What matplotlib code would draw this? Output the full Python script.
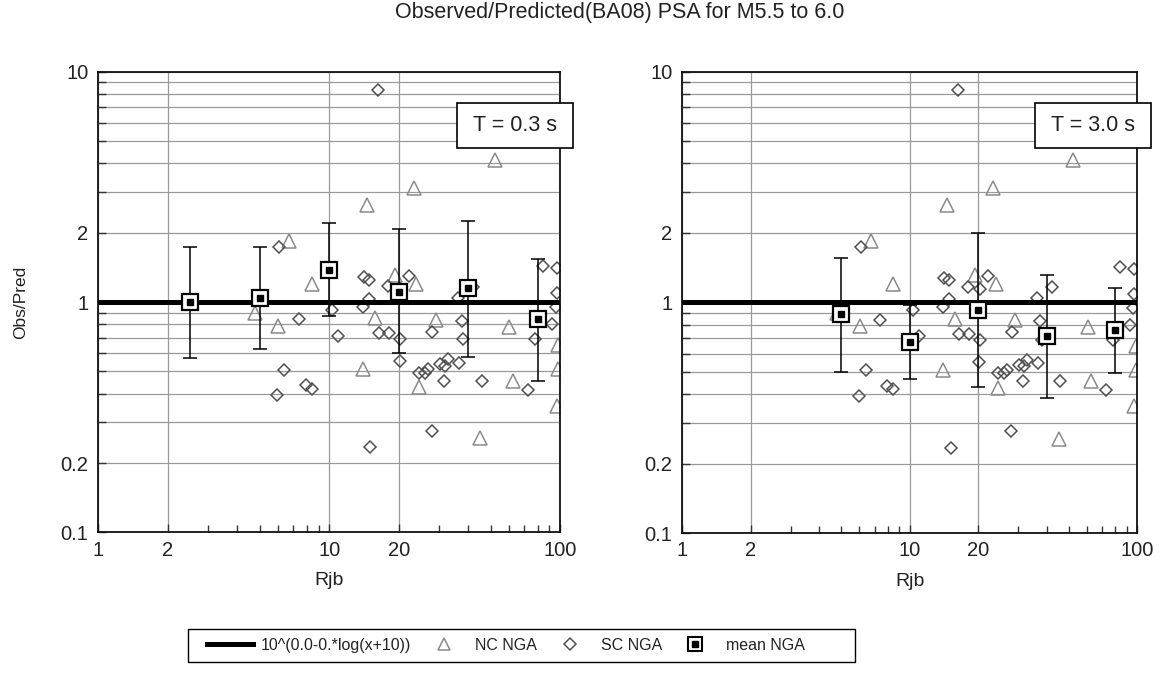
import numpy as np
import matplotlib
matplotlib.use("Agg")
import matplotlib.pyplot as plt
from matplotlib.lines import Line2D
from matplotlib.patches import Rectangle
from matplotlib.ticker import FixedLocator, NullFormatter

plt.rcParams["font.family"] = ["Liberation Sans", "DejaVu Sans"]

# observed / predicted ratios (same records in both panels)
nc_rjb = [52.3, 23.3, 14.6, 6.72, 8.46, 19.3, 23.8, 4.77, 6.03, 15.8,
          29.0, 60.4, 98.4, 98.4, 96.9, 14.0, 24.4, 62.8, 45.1]
nc_ratio = [4.14, 3.12, 2.64, 1.84, 1.20, 1.31, 1.20, 0.90, 0.79, 0.85,
            0.835, 0.78, 0.65, 0.51, 0.354, 0.51, 0.426, 0.455, 0.256]

sc_rjb = [16.3, 6.08, 14.2, 14.9, 18.05, 22.1, 14.9, 14.0, 10.3, 7.43,
          10.96, 16.5, 18.2, 20.3, 28.0, 37.5, 38.1, 36.1, 42.2, 84.2,
          96.9, 96.9, 95.9, 92.7, 78.0, 6.4, 5.95, 7.94, 8.46, 20.2,
          24.5, 26.0, 26.7, 30.2, 32.7, 31.8, 31.5, 36.5, 45.8, 27.9,
          15.1, 72.5, 20.3]
sc_ratio = [8.33, 1.73, 1.28, 1.25, 1.17, 1.30, 1.03, 0.954, 0.923, 0.841,
            0.712, 0.732, 0.732, 0.689, 0.743, 0.827, 0.689, 1.04, 1.165, 1.43,
            1.40, 1.09, 0.948, 0.80, 0.689, 0.507, 0.394, 0.436, 0.42, 0.554,
            0.493, 0.493, 0.51, 0.536, 0.564, 0.528, 0.454, 0.545, 0.454, 0.276,
            0.234, 0.415, 1.14]

# binned means with +/- one sigma bars
mean_rjb_03 = [2.5, 5, 10, 20, 40, 80]
mean_03 = [1.0, 1.044, 1.38, 1.108, 1.147, 0.841]
upper_03 = [1.73, 1.73, 2.21, 2.08, 2.25, 1.53]
lower_03 = [0.569, 0.625, 0.87, 0.599, 0.579, 0.454]

mean_rjb_30 = [5, 10, 20, 40, 80]
mean_30 = [0.887, 0.671, 0.926, 0.714, 0.759]
upper_30 = [1.556, 0.97, 1.99, 1.313, 1.157]
lower_30 = [0.50, 0.463, 0.428, 0.386, 0.492]

# model line 10^(a - b*log(x+10))
coef_a, coef_b = 0.0, 0.0

panels = [
    ("T = 0.3 s", mean_rjb_03, mean_03, upper_03, lower_03),
    ("T = 3.0 s", mean_rjb_30, mean_30, upper_30, lower_30),
]

x_major = [1, 2, 10, 20, 100]
x_minor = [3, 4, 5, 6, 7, 8, 9, 30, 40, 50, 60, 70, 80, 90]
y_lines = [0.1, 0.2, 0.3, 0.4, 0.5, 0.6, 0.7, 0.8, 0.9,
           1, 2, 3, 4, 5, 6, 7, 8, 9, 10]
y_labels = {0.1: "0.1", 0.2: "0.2", 1: "1", 2: "2", 10: "10"}

TRI = "#8a8a8a"
DIA = "#505050"
GRID = "#9a9a9a"
TXT = "#222222"

fig = plt.figure(figsize=(11.74, 6.79), dpi=100)
rects = [[0.0837, 0.216, 0.3933, 0.6784], [0.5812, 0.215, 0.3876, 0.6794]]

for i, (rect, (period, mx, my, mu, ml)) in enumerate(zip(rects, panels)):
    ax = fig.add_axes(rect)
    ax.set_xscale("log")
    ax.set_yscale("log")
    ax.set_xlim(1, 100)
    ax.set_ylim(0.1, 10)

    ax.xaxis.set_major_locator(FixedLocator(x_major))
    ax.xaxis.set_minor_locator(FixedLocator(x_minor))
    ax.xaxis.set_minor_formatter(NullFormatter())
    ax.set_xticklabels([str(v) for v in x_major])
    ax.yaxis.set_major_locator(FixedLocator(y_lines))
    ax.yaxis.set_minor_locator(FixedLocator([]))
    ax.set_yticklabels([y_labels.get(v, "") for v in y_lines])

    ax.grid(True, which="major", color=GRID, lw=0.9, zorder=0)
    ax.set_axisbelow(True)
    ax.tick_params(axis="both", which="both", direction="in", color="#333",
                   labelsize=14.5, labelcolor=TXT)
    ax.tick_params(axis="x", which="major", length=6, width=1, pad=6)
    ax.tick_params(axis="x", which="minor", length=5, width=1)
    ax.tick_params(axis="y", which="major", length=6, width=1, pad=7)
    for sp in ax.spines.values():
        sp.set_linewidth(1.3)
        sp.set_color("#111")

    ax.plot(nc_rjb, nc_ratio, ls="none", marker="^", ms=9.5, mfc="none",
            mec=TRI, mew=1.1, zorder=2)
    ax.plot(sc_rjb, sc_ratio, ls="none", marker="D", ms=6.3, mfc="none",
            mec=DIA, mew=1.1, zorder=2)

    xx = np.logspace(0, 2, 100)
    ax.plot(xx, 10 ** (coef_a - coef_b * np.log10(xx + 10)), color="black",
            lw=3.6, zorder=3, solid_capstyle="butt")

    mx = np.array(mx)
    my = np.array(my)
    yerr = [my - np.array(ml), np.array(mu) - my]
    ax.errorbar(mx, my, yerr=yerr, fmt="none", ecolor="black", elinewidth=1.1,
                capsize=5, capthick=1.1, zorder=4)
    ax.plot(mx, my, ls="none", marker="s", ms=11.8, mfc="white", mec="black",
            mew=1.6, zorder=5)
    ax.plot(mx, my, ls="none", marker="s", ms=4.8, mfc="black", mec="black",
            zorder=6)

    box = Rectangle((0.776, 0.834), 0.253, 0.099, transform=ax.transAxes,
                    facecolor="white", edgecolor="black", lw=1.2,
                    clip_on=False, zorder=7)
    ax.add_patch(box)
    ax.text(0.9025, 0.8835, period, transform=ax.transAxes, ha="center",
            va="center", fontsize=15.5, color=TXT, zorder=8)

    ax.set_xlabel("Rjb", fontsize=14, color=TXT)
    ax.xaxis.set_label_coords(0.5, -0.086)
    if i == 0:
        ax.set_ylabel("Obs/Pred", fontsize=12.5, color=TXT)
        ax.yaxis.set_label_coords(-0.152, 0.5)

fig.text(0.528, 0.982, "Observed/Predicted(BA08) PSA for M5.5 to 6.0",
         ha="center", va="center", fontsize=15.5, color=TXT)

h_line = Line2D([], [], color="black", lw=3.6)
h_nc = Line2D([], [], ls="none", marker="^", ms=8.5, mfc="none", mec=TRI, mew=1.1)
h_sc = Line2D([], [], ls="none", marker="D", ms=6, mfc="none", mec=DIA, mew=1.1)
h_mean_o = Line2D([], [], ls="none", marker="s", ms=10, mfc="white",
                  mec="black", mew=1.5)
h_mean_i = Line2D([], [], ls="none", marker="s", ms=4.5, mfc="black",
                  mec="black")
leg = fig.legend([h_line, h_nc, h_sc, (h_mean_o, h_mean_i)],
                 ["10^(0.0-0.*log(x+10))", "NC NGA", "SC NGA", "mean NGA"],
                 loc="center left", bbox_to_anchor=(207 / 1174, 1 - 645.5 / 679),
                 ncol=4, fontsize=11.5, frameon=False, borderpad=0,
                 borderaxespad=0, handlelength=2.9, columnspacing=0.65,
                 handletextpad=0.45)
for t in leg.get_texts():
    t.set_color(TXT)
fig.add_artist(Rectangle((188 / 1174, 1 - 662 / 679), 667 / 1174, 33 / 679,
                         transform=fig.transFigure, fill=False,
                         edgecolor="black", lw=1.0))

fig.savefig("out.png", dpi=100, facecolor="white")
